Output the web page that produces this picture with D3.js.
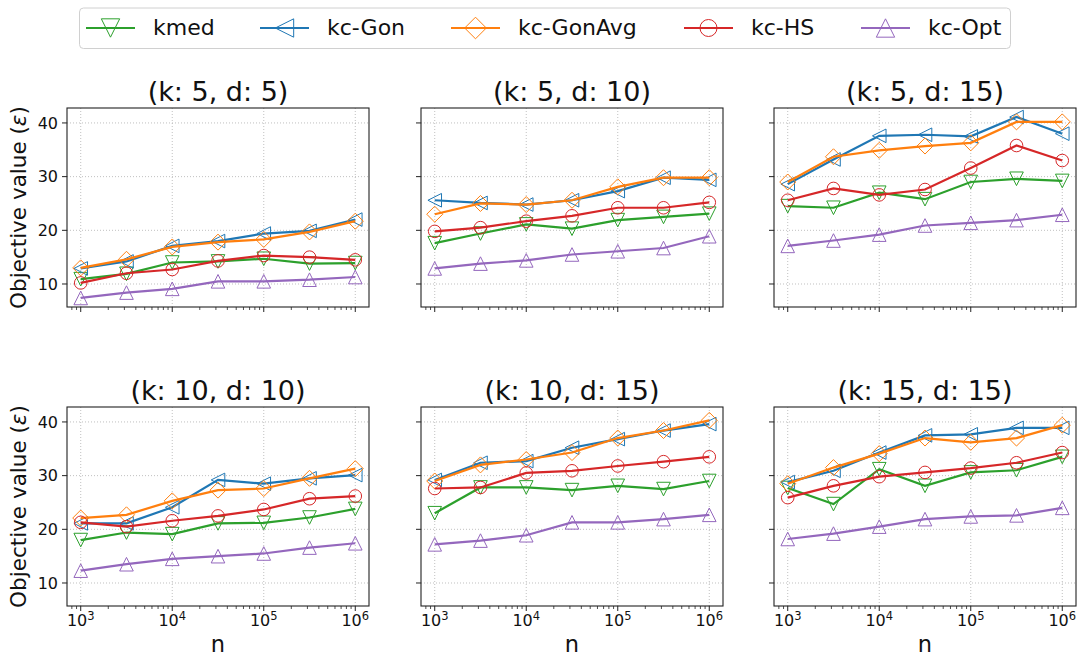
<!DOCTYPE html>
<html><head><meta charset="utf-8">
<script src="https://cdn.jsdelivr.net/npm/d3@7"></script>
<style>body{margin:0;background:#fff;} text{font-family:"DejaVu Sans",sans-serif;}</style>
</head><body>
<svg id="c" width="1081" height="656"></svg>
<script>
const nValues = [1000, 3162, 10000, 31623, 100000, 316228, 1000000];
const seriesNames = ["kmed", "kc-Gon", "kc-GonAvg", "kc-HS", "kc-Opt"];
const panelTitles = ["(k: 5, d: 5)", "(k: 5, d: 10)", "(k: 5, d: 15)", "(k: 10, d: 10)", "(k: 10, d: 15)", "(k: 15, d: 15)"];
const yTicks = [10, 20, 30, 40];
const xTicks = [1e3, 1e4, 1e5, 1e6];
const xTickExp = ["3", "4", "5", "6"];

// panel values, each: [kmed, kc-Gon, kc-GonAvg, kc-HS, kc-Opt]
const p_k5_d5 = [
  [10.9, 11.9, 14.0, 14.2, 14.7, 13.8, 13.9],
  [12.9, 14.2, 17.1, 18.0, 19.4, 19.9, 22.0],
  [13.0, 14.6, 16.9, 17.8, 18.3, 19.7, 21.7],
  [10.2, 12.0, 12.7, 14.3, 15.3, 15.0, 14.5],
  [7.4, 8.4, 9.1, 10.5, 10.5, 10.8, 11.3]
];
const p_k5_d10 = [
  [17.6, 19.4, 21.1, 20.3, 21.9, 22.5, 23.1],
  [25.6, 25.1, 24.8, 25.6, 27.3, 29.8, 29.4],
  [23.0, 25.0, 24.8, 25.6, 28.1, 29.8, 29.8],
  [19.8, 20.5, 21.7, 22.7, 24.2, 24.2, 25.2],
  [12.9, 13.8, 14.4, 15.5, 16.1, 16.7, 18.9]
];
const p_k5_d15 = [
  [24.5, 24.2, 27.0, 25.8, 29.0, 29.6, 29.2],
  [28.6, 33.2, 37.6, 37.8, 37.5, 41.1, 38.0],
  [29.0, 33.7, 34.9, 35.7, 36.3, 40.2, 40.2],
  [25.6, 27.8, 26.6, 27.6, 31.6, 35.8, 33.0],
  [17.1, 18.1, 19.2, 20.9, 21.4, 21.9, 22.9]
];
const p_k10_d10 = [
  [18.0, 19.4, 19.1, 21.1, 21.2, 22.2, 23.8],
  [21.1, 21.1, 24.1, 29.2, 28.5, 29.5, 30.1],
  [22.1, 22.7, 25.3, 27.3, 27.6, 29.5, 31.3],
  [21.3, 20.5, 21.6, 22.5, 23.7, 25.7, 26.2],
  [12.3, 13.5, 14.5, 15.0, 15.5, 16.6, 17.4]
];
const p_k10_d15 = [
  [23.0, 27.8, 27.8, 27.3, 28.1, 27.5, 29.0],
  [29.2, 32.4, 32.7, 35.2, 36.8, 38.4, 39.6],
  [29.0, 32.0, 33.0, 34.3, 37.0, 38.4, 40.3],
  [27.6, 27.8, 30.5, 30.9, 31.8, 32.6, 33.5],
  [17.2, 17.9, 18.9, 21.3, 21.3, 21.9, 22.7]
];
const p_k15_d15 = [
  [27.7, 24.7, 31.2, 28.1, 30.6, 31.0, 33.5],
  [28.8, 30.9, 34.3, 37.5, 37.7, 38.9, 38.9],
  [28.5, 31.5, 34.1, 37.0, 36.2, 37.0, 39.4],
  [25.9, 28.1, 29.8, 30.6, 31.4, 32.4, 34.3],
  [18.2, 19.2, 20.5, 21.9, 22.4, 22.6, 24.0]
];
const panels = [p_k5_d5, p_k5_d10, p_k5_d15, p_k10_d10, p_k10_d15, p_k15_d15];

const colors = ["#2ca02c", "#1f77b4", "#ff7f0e", "#d62728", "#9467bd"];
const markerTypes = ["tdown", "tleft", "diamond", "circle", "tup"];

const svg = d3.select("#c");
const colX = [67, 421, 774], rowY = [108, 407];
const W = 302, H = 199;

const allVals = panels.flat(2);
const [vmin, vmax] = d3.extent(allVals);
const pad = (vmax - vmin) * 0.05;
const y = d3.scaleLinear().domain([vmin - pad, vmax + pad]).range([H, 0]);
const x = d3.scaleLog().domain([Math.pow(10, 2.85), Math.pow(10, 6.15)]).range([0, W]);

function markerPath(t, k) {
  k = k || 1;
  const s = 6.8 * k, dm = 8 * k, cr = 6.3 * k;
  switch (t) {
    case "tdown": return `M${-s},${-s}L${s},${-s}L0,${s}Z`;
    case "tup": return `M${-s},${s}L${s},${s}L0,${-s}Z`;
    case "tleft": return `M${s},${-s}L${s},${s}L${-s},0Z`;
    case "diamond": return `M0,${-dm}L${dm},0L0,${dm}L${-dm},0Z`;
    case "circle": return d3.arc()({innerRadius:0, outerRadius:cr, startAngle:0, endAngle:2*Math.PI});
  }
}

const minorTicks = [];
for (let e = 2; e <= 6; e++) for (let m = 2; m <= 9; m++) {
  const v = m * Math.pow(10, e);
  if (v >= x.domain()[0] && v <= x.domain()[1]) minorTicks.push(v);
}

panels.forEach((pd, i) => {
  const r = Math.floor(i / 3), c = i % 3;
  const g = svg.append("g").attr("transform", `translate(${colX[c]},${rowY[r]})`);
  // grid
  g.selectAll(".gx").data(xTicks).enter().append("line")
    .attr("x1", d => x(d)).attr("x2", d => x(d)).attr("y1", 0).attr("y2", H)
    .attr("stroke", "#b0b0b0").attr("stroke-width", 0.8).attr("stroke-dasharray", "1,2");
  g.selectAll(".gy").data(yTicks).enter().append("line")
    .attr("y1", d => y(d)).attr("y2", d => y(d)).attr("x1", 0).attr("x2", W)
    .attr("stroke", "#b0b0b0").attr("stroke-width", 0.8).attr("stroke-dasharray", "1,2");
  // lines
  pd.forEach((vals, si) => {
    const line = d3.line().x((d, j) => x(nValues[j])).y(d => y(d));
    g.append("path").attr("d", line(vals)).attr("fill", "none")
      .attr("stroke", colors[si]).attr("stroke-width", 2.2);
    g.selectAll(null).data(vals).enter().append("path")
      .attr("d", markerPath(markerTypes[si]))
      .attr("transform", (d, j) => `translate(${x(nValues[j])},${y(d)})`)
      .attr("fill", "none").attr("stroke", colors[si]).attr("stroke-width", 1);
  });
  // frame
  g.append("rect").attr("width", W).attr("height", H).attr("fill", "none")
    .attr("stroke", "#222").attr("stroke-width", 1.1);
  // y ticks
  g.selectAll(".yt").data(yTicks).enter().append("line")
    .attr("x1", -5).attr("x2", 0).attr("y1", d => y(d)).attr("y2", d => y(d))
    .attr("stroke", "#222").attr("stroke-width", 1);
  if (c === 0) {
    g.selectAll(".yl").data(yTicks).enter().append("text")
      .attr("x", -9).attr("y", d => y(d)).attr("dy", "0.36em")
      .attr("text-anchor", "end").attr("font-size", 16).attr("fill", "#111").text(d => d);
    g.append("text").attr("transform", `translate(${-41},${H/2}) rotate(-90)`)
      .attr("text-anchor", "middle").attr("font-size", 21.5).attr("fill", "#111")
      .html('Objective value (<tspan font-style="italic">ε</tspan>)');
  }
  // x ticks
  g.selectAll(".xt").data(xTicks).enter().append("line")
    .attr("x1", d => x(d)).attr("x2", d => x(d)).attr("y1", H).attr("y2", H + 5)
    .attr("stroke", "#222").attr("stroke-width", 1);
  g.selectAll(".xm").data(minorTicks).enter().append("line")
    .attr("x1", d => x(d)).attr("x2", d => x(d)).attr("y1", H).attr("y2", H + 3)
    .attr("stroke", "#222").attr("stroke-width", 0.8);
  if (r === 1) {
    xTicks.forEach((t, k) => {
      const tx = g.append("text").attr("x", x(t)).attr("y", H + 20)
        .attr("text-anchor", "middle").attr("font-size", 16).attr("fill", "#111");
      tx.append("tspan").text("10");
      tx.append("tspan").attr("dy", -6.5).attr("font-size", 11.5).text(xTickExp[k]);
    });
    g.append("text").attr("x", W / 2).attr("y", H + 46).attr("text-anchor", "middle")
      .attr("font-size", 22.5).attr("fill", "#111").text("n");
  }
  g.append("text").attr("x", W / 2).attr("y", -7.5).attr("text-anchor", "middle")
    .attr("font-size", 27).attr("fill", "#111").text(panelTitles[i]);
});

// legend
const lg = svg.append("g");
lg.append("rect").attr("x", 79.5).attr("y", 8).attr("width", 931).attr("height", 40.5)
  .attr("rx", 4).attr("fill", "#fff").attr("stroke", "#d0d0d0").attr("stroke-width", 1);
const legX = [86, 260, 451, 684, 861];
seriesNames.forEach((nm, i) => {
  const gx = legX[i];
  lg.append("line").attr("x1", gx).attr("x2", gx + 49).attr("y1", 28).attr("y2", 28)
    .attr("stroke", colors[i]).attr("stroke-width", 2.2);
  lg.append("path").attr("d", markerPath(markerTypes[i], 1.35))
    .attr("transform", `translate(${gx + 24.5},28)`)
    .attr("fill", "none").attr("stroke", colors[i]).attr("stroke-width", 1);
  lg.append("text").attr("x", gx + 67).attr("y", 28).attr("dy", "0.33em")
    .attr("font-size", 22).attr("fill", "#111").text(nm);
});
</script>
</body></html>
